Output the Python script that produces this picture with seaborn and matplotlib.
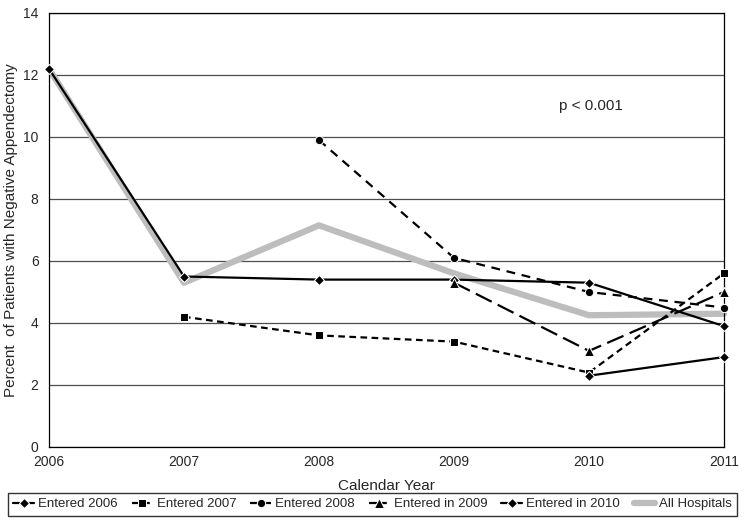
import pandas as pd
import numpy as np
import matplotlib
matplotlib.use("Agg")
import matplotlib.pyplot as plt
import seaborn as sns

years_2006 = [2006, 2007, 2008, 2009, 2010, 2011]
entered_2006 = [12.2, 5.5, 5.4, 5.4, 5.3, 3.9]
years_2007 = [2007, 2008, 2009, 2010, 2011]
entered_2007 = [4.2, 3.6, 3.4, 2.4, 5.6]
years_2008 = [2008, 2009, 2010, 2011]
entered_2008 = [9.9, 6.1, 5.0, 4.5]
years_2009 = [2009, 2010, 2011]
entered_2009 = [5.3, 3.1, 5.0]
years_2010 = [2010, 2011]
entered_2010 = [2.3, 2.9]
years_all = [2006, 2007, 2008, 2009, 2010, 2011]
all_hospitals = [12.2, 5.3, 7.15, 5.6, 4.25, 4.3]

sns.set_style("white")
plt.rcParams['font.family'] = ['Liberation Sans', 'DejaVu Sans']

fig = plt.figure(figsize=(7.45, 5.25), dpi=100)
ax = fig.add_axes([49/745, 1-447/525, (724-49)/745, (447-13)/525])

# gray "all hospitals" first so it sits underneath
sns.lineplot(x=years_all, y=all_hospitals, ax=ax, color="#bdbdbd", linewidth=4.5,
             label="All Hospitals", zorder=2)
sns.lineplot(x=years_2006, y=entered_2006, ax=ax, color="black", linewidth=1.6,
             marker="D", markersize=5, label="Entered 2006", zorder=3)
sns.lineplot(x=years_2007, y=entered_2007, ax=ax, color="black", linewidth=1.6,
             linestyle=(0, (3, 2)), marker="s", markersize=6, label="Entered 2007", zorder=3)
sns.lineplot(x=years_2008, y=entered_2008, ax=ax, color="black", linewidth=1.6,
             linestyle=(0, (4, 3)), marker="o", markersize=6, label="Entered 2008", zorder=3)
sns.lineplot(x=years_2009, y=entered_2009, ax=ax, color="black", linewidth=1.6,
             linestyle=(0, (8, 3)), marker="^", markersize=7, label="Entered in 2009", zorder=3)
sns.lineplot(x=years_2010, y=entered_2010, ax=ax, color="black", linewidth=1.6,
             marker="D", markersize=5, label="Entered in 2010", zorder=3)
for ln in ax.lines:
    ln.set_clip_on(False)

ax.set_xlim(2006, 2011)
ax.set_ylim(0, 14)
ax.set_yticks(np.arange(0, 15, 2))
ax.set_xticks(years_all)
ax.grid(axis="y", color="#4d4d4d", linewidth=0.9)
ax.set_axisbelow(True)
for s in ax.spines.values():
    s.set_color("black")
    s.set_linewidth(0.9)
ax.tick_params(axis="both", labelsize=10, length=4, color="black", direction="out")
ax.tick_params(axis="x", pad=2)
ax.set_xlabel("Calendar Year", fontsize=11, labelpad=7)
ax.set_ylabel("Percent  of Patients with Negative Appendectomy", fontsize=11, labelpad=4)
ax.text(2009.78, 11.0, "p < 0.001", fontsize=11, va="center", ha="left")

h, l = ax.get_legend_handles_labels()
order = [1, 2, 3, 4, 5, 0]
ax.legend([h[i] for i in order], [l[i] for i in order], ncol=6, loc="lower center",
          bbox_to_anchor=(0.5, 0.018), bbox_transform=fig.transFigure,
          frameon=True, fancybox=False, edgecolor="black", fontsize=9.5,
          handlelength=1.6, handletextpad=0.3, columnspacing=1.05, borderpad=0.4,
          borderaxespad=0)

plt.savefig("out.png", dpi=100)
